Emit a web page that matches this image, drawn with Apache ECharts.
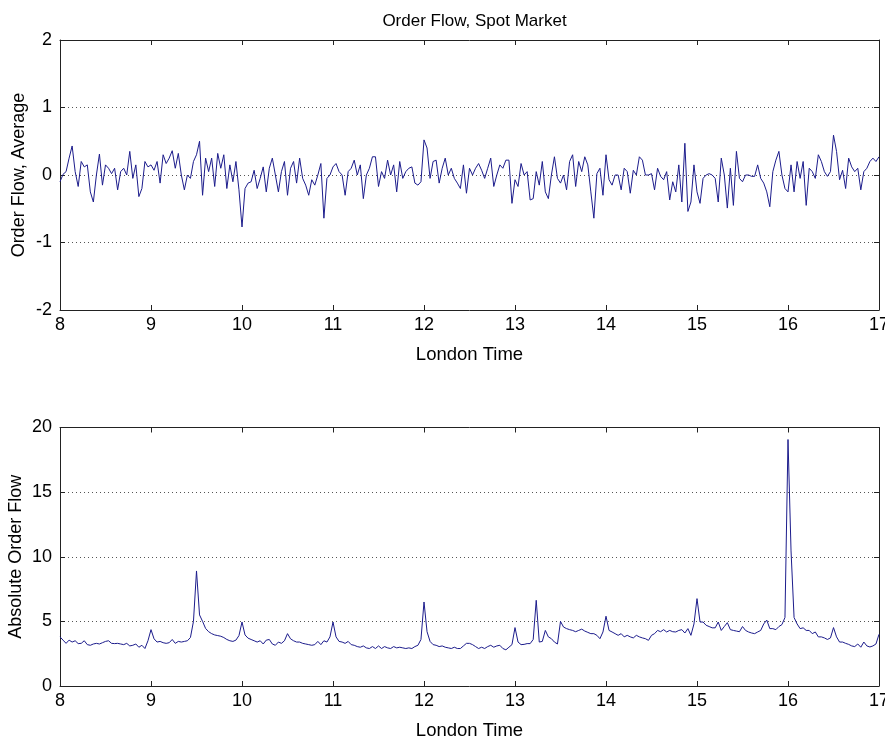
<!DOCTYPE html>
<html>
<head>
<meta charset="utf-8">
<script src="https://cdn.jsdelivr.net/npm/echarts@6/dist/echarts.min.js"></script>
<style>
  html, body { margin: 0; padding: 0; background: #fff; }
  #chart { width: 885px; height: 745px; }
</style>
</head>
<body>
<div id="chart"></div>
<script>
// Sampling of both series: one observation every 2 minutes, 08:00 to 17:00 London time
const startHour = 8;
const stepMinutes = 2;

// x ticks (hours) and y ticks for both panels
const hourTicks = [8, 9, 10, 11, 12, 13, 14, 15, 16, 17];
const avgTicks = [-2, -1, 0, 1, 2];
const absTicks = [0, 5, 10, 15, 20];

// Average order flow, spot market
const avgFlow = [
  -0.10, 0.01, 0.05, 0.25, 0.43, 0.05, -0.17, 0.20, 0.12, 0.15,
  -0.25, -0.40, 0.00, 0.31, -0.15, 0.15, 0.10, 0.02, 0.10, -0.22,
  0.05, 0.10, 0.00, 0.35, -0.05, 0.15, -0.32, -0.20, 0.20, 0.12,
  0.15, 0.07, 0.20, -0.12, 0.30, 0.17, 0.25, 0.36, 0.10, 0.32,
  0.00, -0.22, 0.00, -0.05, 0.20, 0.30, 0.50, -0.30, 0.25, 0.05,
  0.25, -0.17, 0.32, 0.10, 0.30, -0.20, 0.15, -0.10, 0.20, -0.22,
  -0.77, -0.20, -0.12, -0.10, 0.07, -0.20, -0.05, 0.12, -0.25, 0.10,
  0.25, 0.00, -0.25, 0.05, 0.20, -0.30, 0.10, 0.20, -0.12, 0.25,
  -0.05, -0.15, -0.30, -0.07, -0.15, 0.00, 0.17, -0.64, -0.05, 0.00,
  0.12, 0.17, 0.05, 0.00, -0.30, 0.05, 0.10, 0.22, 0.00, 0.15,
  -0.35, 0.00, 0.10, 0.27, 0.27, -0.17, 0.05, -0.05, 0.22, 0.00,
  0.15, -0.25, 0.20, -0.05, 0.05, 0.10, 0.12, -0.12, -0.15, -0.10,
  0.52, 0.40, -0.05, 0.20, 0.22, -0.12, 0.10, 0.25, 0.00, 0.10,
  -0.05, -0.12, -0.20, 0.15, -0.27, 0.10, 0.00, 0.10, 0.17, 0.07,
  -0.05, 0.10, 0.25, -0.17, 0.00, 0.15, 0.10, 0.22, 0.22, -0.42,
  -0.07, -0.17, 0.17, 0.00, 0.05, -0.37, -0.35, 0.05, -0.15, 0.20,
  -0.25, -0.35, 0.00, 0.27, -0.05, -0.12, 0.00, -0.22, 0.20, 0.30,
  -0.17, 0.20, 0.05, 0.27, 0.15, -0.25, -0.64, 0.02, 0.10, -0.30,
  0.30, -0.07, -0.15, 0.00, 0.00, -0.22, 0.10, 0.05, -0.27, 0.07,
  0.00, 0.27, 0.22, 0.00, 0.00, 0.02, -0.22, 0.10, -0.02, -0.07,
  0.05, -0.37, -0.10, -0.25, 0.15, -0.40, 0.47, -0.54, -0.40, 0.15,
  -0.25, -0.42, -0.05, 0.00, 0.02, 0.00, -0.05, -0.40, 0.25, 0.00,
  -0.49, 0.10, -0.45, 0.35, -0.05, -0.10, 0.00, 0.00, -0.02, -0.02,
  0.15, -0.05, -0.12, -0.25, -0.47, 0.05, 0.22, 0.35, 0.00, -0.20,
  -0.25, 0.15, -0.25, 0.20, -0.05, 0.20, -0.45, 0.10, 0.05, -0.05,
  0.30, 0.20, 0.05, -0.02, 0.05, 0.59, 0.35, -0.07, 0.07, -0.20,
  0.25, 0.12, 0.05, 0.10, -0.22, 0.05, 0.10, 0.20, 0.25, 0.20, 0.27
];

// Absolute order flow
const absFlow = [
  3.80, 3.55, 3.30, 3.55, 3.40, 3.50, 3.28, 3.30, 3.50, 3.20,
  3.15, 3.25, 3.30, 3.25, 3.35, 3.45, 3.50, 3.30, 3.28, 3.30,
  3.25, 3.20, 3.30, 3.10, 3.15, 3.25, 3.00, 3.15, 2.90, 3.50,
  4.36, 3.65, 3.40, 3.45, 3.35, 3.30, 3.35, 3.60, 3.30, 3.45,
  3.40, 3.45, 3.50, 3.75, 5.00, 8.90, 5.50, 5.00, 4.45, 4.20,
  4.05, 3.95, 3.90, 3.85, 3.75, 3.60, 3.50, 3.45, 3.55, 3.90,
  4.95, 3.95, 3.70, 3.60, 3.50, 3.40, 3.50, 3.25, 3.55, 3.60,
  3.25, 3.15, 3.40, 3.30, 3.50, 4.05, 3.65, 3.50, 3.40, 3.40,
  3.30, 3.25, 3.20, 3.15, 3.20, 3.45, 3.20, 3.50, 3.40, 3.80,
  4.95, 3.80, 3.45, 3.40, 3.30, 3.45, 3.20, 3.15, 3.05, 3.00,
  3.10, 2.95, 2.90, 3.05, 2.90, 3.10, 2.90, 3.05, 2.95, 2.90,
  3.05, 2.95, 3.00, 2.95, 2.90, 2.95, 2.90, 3.05, 3.15, 3.60,
  6.50, 4.20, 3.45, 3.20, 3.15, 3.05, 3.10, 3.00, 2.95, 2.90,
  3.00, 2.90, 2.90, 3.10, 3.30, 3.30, 3.20, 3.05, 2.90, 3.00,
  2.90, 3.05, 3.15, 3.00, 3.10, 3.15, 2.90, 2.80, 3.00, 3.20,
  4.52, 3.40, 3.20, 3.22, 3.28, 3.28, 3.60, 6.63, 3.40, 3.45,
  4.30, 3.80, 3.66, 3.40, 3.25, 5.00, 4.56, 4.44, 4.36, 4.30,
  4.20, 4.30, 4.40, 4.25, 4.15, 4.05, 4.05, 3.92, 3.66, 4.18,
  5.40, 4.30, 4.18, 4.05, 3.92, 4.05, 3.80, 3.92, 3.80, 3.72,
  3.92, 3.80, 3.72, 3.66, 3.53, 3.92, 4.05, 4.30, 4.20, 4.36,
  4.18, 4.30, 4.20, 4.18, 4.30, 4.36, 4.10, 4.44, 3.92, 4.80,
  6.76, 4.95, 4.95, 4.70, 4.60, 4.50, 4.50, 4.95, 4.30, 4.60,
  4.90, 4.36, 4.30, 4.25, 4.20, 4.60, 4.30, 4.18, 4.10, 4.05,
  4.18, 4.30, 4.80, 5.10, 4.44, 4.44, 4.36, 4.60, 4.75, 5.30,
  19.07, 10.45, 5.30, 4.80, 4.44, 4.50, 4.30, 4.30, 4.05, 4.18,
  3.80, 3.80, 3.72, 3.60, 3.72, 4.52, 3.80, 3.40, 3.40, 3.30,
  3.22, 3.10, 3.05, 3.25, 3.00, 3.40, 3.10, 3.02, 3.10, 3.25, 4.00
];

const toPairs = (vals) => vals.map((v, i) => [startHour + i * stepMinutes / 60, v]);

const FONT = 'Liberation Sans, Arial, sans-serif';
const INK = '#000';
const LINE = '#1c1c8c';

function xAxes(grid) {
  const common = {
    gridIndex: grid, type: 'value',
    min: hourTicks[0], max: hourTicks[hourTicks.length - 1], interval: 1,
    axisLine: { show: true, onZero: false, lineStyle: { color: '#222', width: 1 } },
    axisTick: { show: true, inside: true, length: 5, lineStyle: { color: '#222' } },
    splitLine: { show: false }
  };
  return [
    Object.assign({}, common, {
      position: 'bottom',
      axisLabel: { color: INK, fontSize: 18, fontFamily: FONT, margin: 6 },
      name: 'London Time', nameLocation: 'middle', nameGap: 35,
      nameTextStyle: { color: INK, fontSize: 18.5, fontFamily: FONT }
    }),
    Object.assign({}, common, { position: 'top', axisLabel: { show: false } })
  ];
}

function yAxes(grid, ticks, label, gap) {
  const step = ticks[1] - ticks[0];
  const common = {
    gridIndex: grid, type: 'value',
    min: ticks[0], max: ticks[ticks.length - 1], interval: step,
    axisLine: { show: true, onZero: false, lineStyle: { color: '#222', width: 1 } },
    axisTick: { show: true, inside: true, length: 5, lineStyle: { color: '#222' } }
  };
  return [
    Object.assign({}, common, {
      position: 'left',
      axisLabel: { color: INK, fontSize: 18, fontFamily: FONT, margin: 8 },
      splitLine: { show: true, lineStyle: { type: [1, 3], color: '#555', width: 1 } },
      name: label, nameLocation: 'middle', nameGap: gap, nameRotate: 90,
      nameMoveOverlap: false,
      nameTextStyle: { color: INK, fontSize: 18, fontFamily: FONT }
    }),
    Object.assign({}, common, {
      position: 'right', axisLabel: { show: false }, splitLine: { show: false }
    })
  ];
}

const chart = echarts.init(document.getElementById('chart'), null, { renderer: 'canvas' });
chart.setOption({
  animation: false,
  backgroundColor: '#fff',
  title: {
    text: 'Order Flow, Spot Market',
    left: 469.5, top: 8, textAlign: 'center',
    textStyle: { color: INK, fontSize: 17, fontWeight: 'normal', fontFamily: FONT }
  },
  grid: [
    { left: 60, top: 40, width: 819, height: 270, outerBoundsMode: 'none', containLabel: false },
    { left: 60, top: 427.5, width: 819, height: 258.5, outerBoundsMode: 'none', containLabel: false }
  ],
  xAxis: [].concat(xAxes(0), xAxes(1)),
  yAxis: [].concat(
    yAxes(0, avgTicks, 'Order Flow, Average', 32),
    yAxes(1, absTicks, 'Absolute Order Flow', 35)
  ),
  series: [
    {
      type: 'line', xAxisIndex: 0, yAxisIndex: 0,
      data: toPairs(avgFlow), showSymbol: false, smooth: false,
      lineStyle: { color: LINE, width: 1 }
    },
    {
      type: 'line', xAxisIndex: 2, yAxisIndex: 2,
      data: toPairs(absFlow), showSymbol: false, smooth: false,
      lineStyle: { color: LINE, width: 1 }
    }
  ]
});
</script>
</body>
</html>
